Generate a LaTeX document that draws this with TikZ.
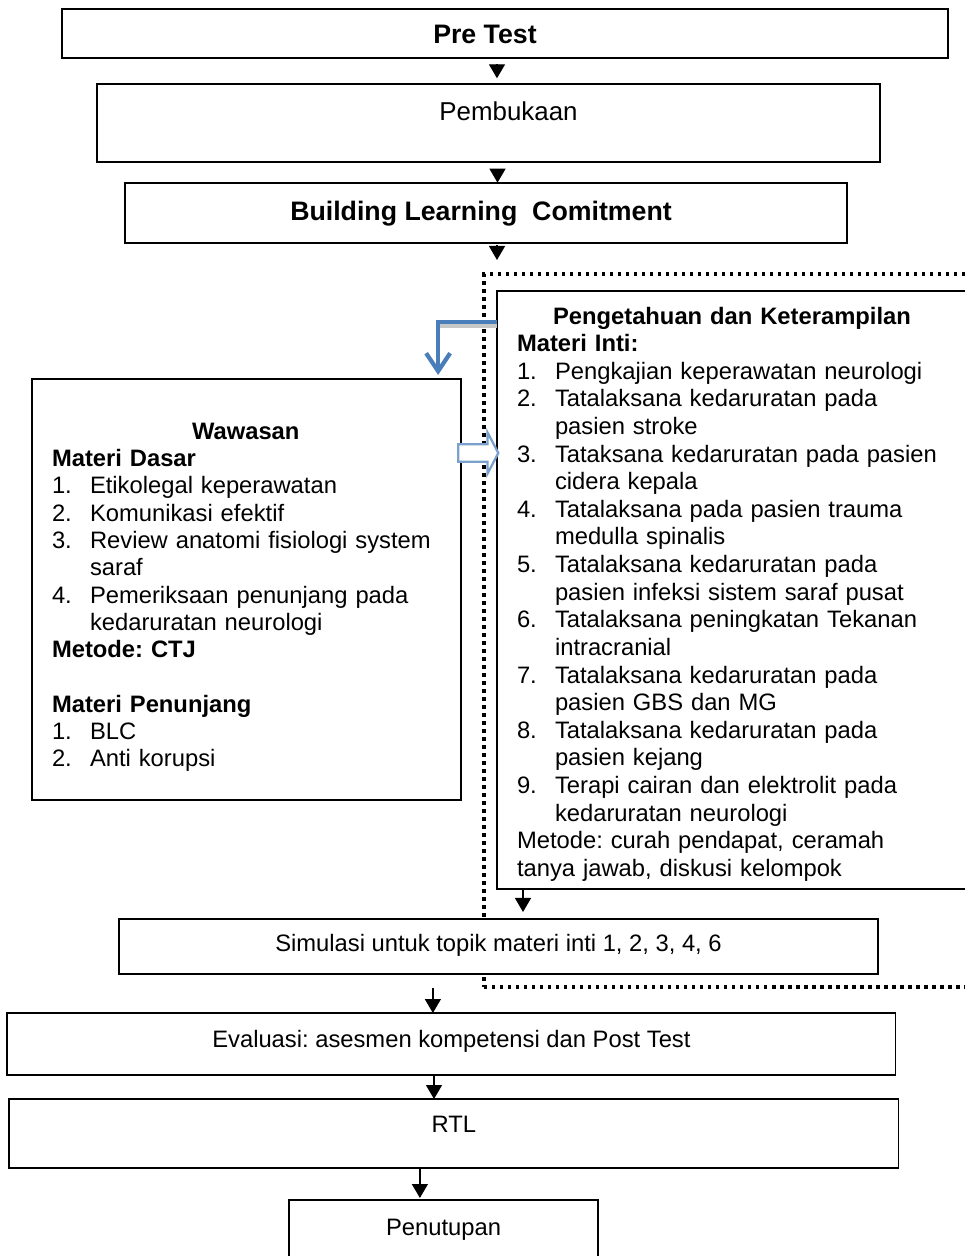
\documentclass[tikz,border=0pt]{standalone}
\usepackage{fontspec}
\setmainfont{Liberation Sans}
\usetikzlibrary{arrows.meta,shapes.arrows}
\definecolor{wordblue}{RGB}{74,126,187}
\definecolor{paleblue}{RGB}{122,160,206}
\newcommand\itm[1]{\makebox[0.95cm][l]{#1}}
\newcommand\fbig{\fontsize{19}{22}\selectfont}
\newcommand\fmid{\fontsize{18.4}{21}\selectfont}
\newcommand\ftxt{\fontsize{16.9}{19.64}\selectfont}
\newcommand\fwaw{\fontsize{16.9}{19.4}\selectfont}
\frenchspacing
\begin{document}
\begin{tikzpicture}[x=0.025cm,y=-0.025cm,
  box/.style={draw,line width=1.3pt,fill=white,outer sep=0pt,text height=0.475cm},
  listbox/.style={draw,line width=1.3pt,fill=white,outer sep=0pt,anchor=north west,align=left,inner xsep=0.5cm,font=\ftxt},
  arr/.style={line width=1pt,-{Triangle[width=0.4cm,length=0.35cm]}},
  dotframe/.style={draw,line width=0.085cm,dash pattern=on 0.085cm off 0.115cm,outer sep=0pt,anchor=north west},
  bluearr/.style={wordblue,line width=3pt,-{Straight Barb[length=0.45cm,width=0.6cm]}},
  hollow/.style={single arrow,draw=paleblue,line width=1.6pt,fill=white,minimum height=1cm,minimum width=1cm,single arrow head extend=0.3cm,single arrow tip angle=125,inner sep=0.19cm}]
\useasboundingbox (0,0) rectangle (965,1256);
% dotted frame round the core part
\node[dotframe,minimum width=13cm,minimum height=17.825cm] (frame) at (484,274) {};
% main boxes
\node[box,minimum width=22.15cm,minimum height=1.225cm,text depth=0cm,font=\fbig] (pre) at (505,33.8) {\textbf{Pre Test}\hspace*{1cm}};
\node[box,minimum width=19.575cm,minimum height=1.935cm,text depth=0.6cm,font=\fmid] (buka) at (488.5,123) {\hspace*{1cm}Pembukaan};
\node[box,minimum width=18.05cm,minimum height=1.515cm,text depth=0.125cm,font=\fbig] (blc) at (486,213) {\textbf{Building Learning\ \ Comitment}\hspace*{0.25cm}};
\node[listbox,text width=9.725cm,minimum height=10.525cm,font=\fwaw] (waw) at (32,379) {%
\rule{0pt}{0.8cm}\hspace*{3.5cm}\textbf{Wawasan}\\
\textbf{Materi Dasar}\\
\itm{1.}Etikolegal keperawatan\\
\itm{2.}Komunikasi efektif\\
\itm{3.}Review anatomi fisiologi system\\
\itm{}saraf\\
\itm{4.}Pemeriksaan penunjang pada\\
\itm{}kedaruratan neurologi\\
\textbf{Metode: CTJ}\\[19.4pt]
\textbf{Materi Penunjang}\\
\itm{1.}BLC\\
\itm{2.}Anti korupsi};
\node[listbox,text width=11.5cm,minimum height=14.95cm] (inti) at (497,291) {%
\rule{0pt}{0.63cm}\hspace*{0.9cm}\textbf{Pengetahuan dan Keterampilan}\\
\textbf{Materi Inti:}\\
\itm{1.}Pengkajian keperawatan neurologi\\
\itm{2.}Tatalaksana kedaruratan pada\\
\itm{}pasien stroke\\
\itm{3.}Tataksana kedaruratan pada pasien\\
\itm{}cidera kepala\\
\itm{4.}Tatalaksana pada pasien trauma\\
\itm{}medulla spinalis\\
\itm{5.}Tatalaksana kedaruratan pada\\
\itm{}pasien infeksi sistem saraf pusat\\
\itm{6.}Tatalaksana peningkatan Tekanan\\
\itm{}intracranial\\
\itm{7.}Tatalaksana kedaruratan pada\\
\itm{}pasien GBS dan MG\\
\itm{8.}Tatalaksana kedaruratan pada\\
\itm{}pasien kejang\\
\itm{9.}Terapi cairan dan elektrolit pada\\
\itm{}kedaruratan neurologi\\
Metode: curah pendapat, ceramah\\
tanya jawab, diskusi kelompok};
\node[box,minimum width=18.975cm,minimum height=1.375cm,text depth=0.215cm,font=\ftxt] (sim) at (498.5,946.5) {Simulasi untuk topik materi inti 1, 2, 3, 4, 6};
\node[box,minimum width=22.2cm,minimum height=1.55cm,text depth=0.29cm,font=\ftxt] (eval) at (451.4,1044) {Evaluasi: asesmen kompetensi dan Post Test};
\node[box,minimum width=22.225cm,minimum height=1.725cm,text depth=0.55cm,font=\ftxt] (rtl) at (453.9,1133.5) {RTL};
\node[box,minimum width=7.725cm,minimum height=1.75cm,text depth=0.475cm,font=\ftxt] (tutup) at (443.5,1235) {Penutupan};
% blue links between the two parts
\draw[black!22,line width=2.5pt] ([yshift=-0.87cm]inti.north west) -- ([xshift=-0.575cm,yshift=-0.87cm]inti.north west -| waw.north east);
\draw[bluearr] ([yshift=-0.775cm]inti.north west) -| ([xshift=-0.575cm,yshift=0.1cm]waw.north east);
\node[hollow] (hol) at (476,453) {};
% flow arrows
\draw[arr,shorten <=0.15cm,shorten >=0.15cm] ([xshift=-0.2cm]pre.south) -- ([xshift=-0.2cm]pre.south |- buka.north);
\draw[arr,shorten <=0.2cm] ([xshift=0.225cm]buka.south) -- ([xshift=0.225cm]buka.south |- blc.north);
\draw[arr,shorten <=0.05cm,shorten >=0.35cm] ([xshift=0.275cm]blc.south) -- ([xshift=0.275cm]blc.south |- frame.north);
\draw[arr,shorten >=0.175cm] ([xshift=0.65cm]inti.south west) -- ([xshift=0.65cm]inti.south west |- sim.north);
\draw[arr,shorten <=0.35cm] ([xshift=-1.64cm]sim.south) -- ([xshift=-1.64cm]sim.south |- eval.north);
\draw[arr] ([xshift=-0.435cm]eval.south) -- ([xshift=-0.435cm]eval.south |- rtl.north);
\draw[arr,shorten >=0.05cm] ([xshift=-0.85cm]rtl.south) -- ([xshift=-0.85cm]rtl.south |- tutup.north);
\end{tikzpicture}
\end{document}
